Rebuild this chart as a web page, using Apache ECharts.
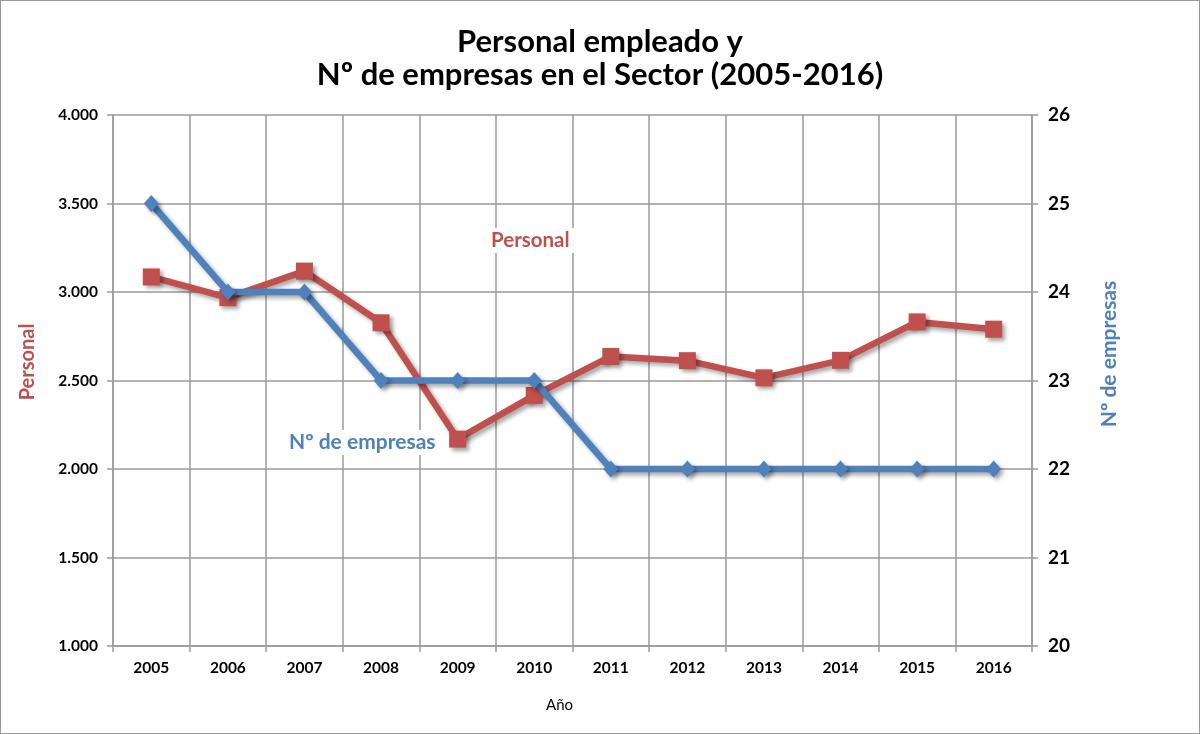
<!DOCTYPE html>
<html><head><meta charset="utf-8">
<script src="https://cdn.jsdelivr.net/npm/echarts@6/dist/echarts.min.js"></script>
<style>html,body{margin:0;padding:0;background:#fff}#c{width:1200px;height:734px;box-sizing:border-box;border:1.5px solid #999}</style>
</head><body><div id="c"></div>
<script>
const years = ['2005','2006','2007','2008','2009','2010','2011','2012','2013','2014','2015','2016'];
const personal = [3085, 2968, 3118, 2826, 2169, 2416, 2636, 2612, 2515, 2614, 2831, 2790];
const empresas = [25, 24, 24, 23, 23, 23, 22, 22, 22, 22, 22, 22];
const titleLines = ['Personal empleado y', 'Nº de empresas en el Sector (2005-2016)'];
const leftName = 'Personal', rightName = 'Nº de empresas';

const FONT = 'Lato, "Open Sans", sans-serif';
const RED = '#C0504D', BLUE = '#4F81BD', GRID = '#9a9a9a';
const chart = echarts.init(document.getElementById('c'));
const shadow = {shadowColor:'rgba(0,0,0,0.35)', shadowBlur:4, shadowOffsetX:3, shadowOffsetY:3};
chart.setOption({
  animation:false,
  title:{text:titleLines.join('\n'), left:'center', top:19,
    textStyle:{fontFamily:FONT, fontWeight:'bold', fontSize:31, color:'#000', lineHeight:33}},
  grid:{left:112, right:167, top:114, bottom:87},
  xAxis:{type:'category', data:years, boundaryGap:true, name:'Año', nameLocation:'middle', nameGap:52,
    nameTextStyle:{fontFamily:FONT, fontSize:15, color:'#000', padding:[0,26,0,0]},
    axisLine:{lineStyle:{color:GRID, width:1.5}},
    axisTick:{show:true, length:6, lineStyle:{color:GRID, width:1.5}},
    axisLabel:{fontFamily:FONT, fontWeight:'bold', fontSize:15.5, color:'#000', margin:14},
    splitLine:{show:true, lineStyle:{color:GRID, width:1.5}}},
  yAxis:[
    {type:'value', min:1000, max:4000, interval:500,
     axisLine:{show:true, lineStyle:{color:GRID, width:1.5}},
     axisTick:{show:true, length:6, lineStyle:{color:GRID, width:1.5}},
     axisLabel:{fontFamily:FONT, fontWeight:'bold', fontSize:15.5, color:'#000', margin:15,
       formatter:v=>String(v).replace(/\B(?=(\d{3})+(?!\d))/g,'.')},
     splitLine:{show:true, lineStyle:{color:GRID, width:1.5}}},
    {type:'value', min:20, max:26, interval:1,
     axisLine:{show:true, lineStyle:{color:GRID, width:1.5}},
     axisTick:{show:true, length:6, lineStyle:{color:GRID, width:1.5}},
     axisLabel:{fontFamily:FONT, fontWeight:'bold', fontSize:19, color:'#000', margin:16},
     splitLine:{show:false}}
  ],
  series:[
    {name:'Personal', type:'line', yAxisIndex:0, data:personal, symbol:'rect', symbolSize:17,
     lineStyle:Object.assign({color:RED, width:6.5}, shadow), itemStyle:Object.assign({color:RED}, shadow), z:3},
    {name:'Nº de empresas', type:'line', yAxisIndex:1, data:empresas, symbol:'diamond', symbolSize:[15,17],
     lineStyle:Object.assign({color:BLUE, width:6.5}, shadow), itemStyle:Object.assign({color:BLUE}, shadow), z:4}
  ],
  graphic:[
    {type:'text', x:27, y:361, rotation:Math.PI/2, z:10, style:{text:leftName, fontFamily:FONT, fontWeight:'bold', fontSize:20, fill:RED,
      align:'center', verticalAlign:'middle'}},
    {type:'text', x:1108, y:353, rotation:Math.PI/2, z:10, style:{text:rightName, fontFamily:FONT, fontWeight:'bold', fontSize:21, fill:BLUE,
      align:'center', verticalAlign:'middle'}},
    {type:'text', left:484, top:227, z:10, style:{text:'Personal', fontFamily:FONT, fontWeight:'bold', fontSize:20.5, fill:RED,
      backgroundColor:'#fff', padding:[2,6]}},
    {type:'text', left:282, top:429, z:10, style:{text:'Nº de empresas', fontFamily:FONT, fontWeight:'bold', fontSize:21, fill:BLUE,
      backgroundColor:'#fff', padding:[2,6]}}
  ]
});
</script></body></html>
